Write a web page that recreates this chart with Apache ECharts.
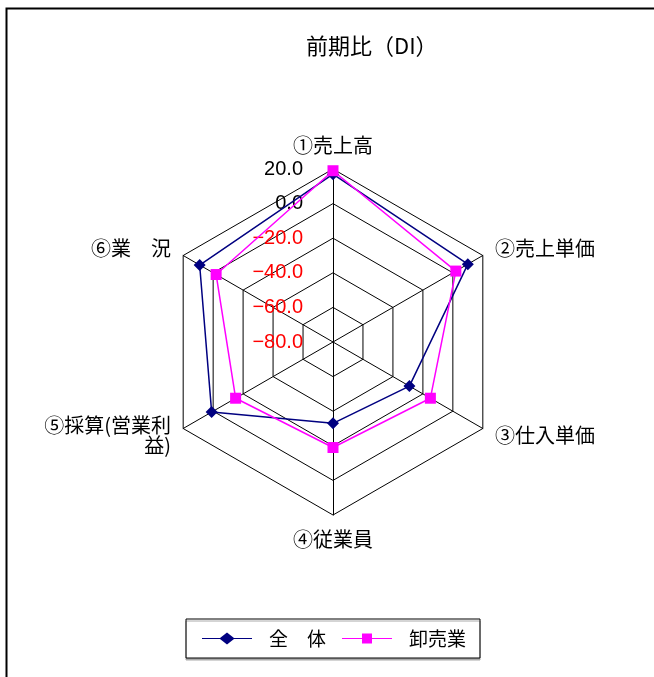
<!DOCTYPE html>
<html>
<head>
<meta charset="utf-8">
<script src="https://cdn.jsdelivr.net/npm/echarts@6/dist/echarts.min.js"></script>
<style>
html, body { margin: 0; padding: 0; background: #fff; }
#chart { width: 654px; height: 677px; }
</style>
</head>
<body>
<div id="chart"></div>
<script>
// 項目（時計回り、上から）
var categories = ['①売上高', '②売上単価', '③仕入単価', '④従業員', '⑤採算(営業利\n益)', '⑥業　況'];
var seriesNames = ['全　体', '卸売業'];
var zentai = [17, 10, -29, -33, 1, 9];
var oroshi = [19, 2, -15, -19, -15, -2];
var axisMin = -80;
var axisMax = 20;

// echarts のレーダーは反時計回りなので並べ替える
var order = [0, 5, 4, 3, 2, 1];
function pick(arr) { return order.map(function (i) { return arr[i]; }); }

var font = '"Noto Sans CJK JP", "Liberation Sans", sans-serif';
var numFont = '"Liberation Sans", Arial, sans-serif';

// 凡例アイコン（線＋マーカー）
var iconDiamond = 'path://M0,5.4L18,5.4L25,0L32,5.4L50,5.4L50,6.6L32,6.6L25,12L18,6.6L0,6.6Z';
var iconSquare = 'path://M0,5.4L20,5.4L20,1L30,1L30,5.4L50,5.4L50,6.6L30,6.6L30,11L20,11L20,6.6L0,6.6Z';

var chart = echarts.init(document.getElementById('chart'));
chart.setOption({
    animation: false,
    textStyle: { fontFamily: font },
    title: {
        text: '前期比（DI）',
        left: 301,
        top: 30,
        textStyle: { fontFamily: font, fontSize: 22, fontWeight: 'normal', color: '#000' }
    },
    graphic: [{
        type: 'rect',
        shape: { x: 6.5, y: 8.5, width: 700, height: 700 },
        style: { fill: 'none', stroke: '#000', lineWidth: 2 },
        silent: true
    }],
    legend: {
        left: 186,
        top: 619,
        width: 295,
        height: 38,
        padding: [10, 14, 10, 16],
        borderColor: '#000',
        borderWidth: 1,
        backgroundColor: '#fff',
        shadowColor: '#aaa',
        shadowOffsetX: 0,
        shadowOffsetY: 2,
        itemWidth: 50,
        itemHeight: 12,
        itemGap: 16,
        textStyle: { fontFamily: font, fontSize: 19, color: '#000', padding: [0, 0, 0, 12] },
        data: [
            { name: seriesNames[0], icon: iconDiamond, itemStyle: { color: '#000080' } },
            { name: seriesNames[1], icon: iconSquare, itemStyle: { color: '#ff00ff' } }
        ]
    },
    radar: {
        center: [333, 342],
        radius: 173,
        startAngle: 90,
        shape: 'polygon',
        splitNumber: 5,
        nameGap: 14,
        axisName: { color: '#000', fontSize: 20, fontFamily: font },
        axisLine: { lineStyle: { color: '#000', width: 1 } },
        splitLine: { lineStyle: { color: '#000', width: 1 } },
        splitArea: { show: false },
        axisLabel: { show: false },
        indicator: pick(categories).map(function (c, i) {
            var ind = { name: c, min: axisMin, max: axisMax };
            if (i === 0) {
                ind.axisLabel = {
                    show: true,
                    fontSize: 19,
                    fontFamily: numFont,
                    margin: 30,
                    formatter: function (v) {
                        var s = Number(v).toFixed(1).replace('-', '−');
                        return v < 0 ? '{r|' + s + '}' : '{b|' + s + '}';
                    },
                    rich: {
                        r: { color: '#ff0000', fontSize: 20, fontFamily: numFont },
                        b: { color: '#000', fontSize: 20, fontFamily: numFont }
                    }
                };
            }
            return ind;
        })
    },
    series: [{
        type: 'radar',
        data: [{
            name: seriesNames[0],
            value: pick(zentai),
            symbol: 'diamond',
            symbolSize: 12,
            lineStyle: { color: '#000080', width: 1.5 },
            itemStyle: { color: '#000080' }
        }, {
            name: seriesNames[1],
            value: pick(oroshi),
            symbol: 'rect',
            symbolSize: 11,
            lineStyle: { color: '#ff00ff', width: 1.5 },
            itemStyle: { color: '#ff00ff' }
        }]
    }]
});
</script>
</body>
</html>
